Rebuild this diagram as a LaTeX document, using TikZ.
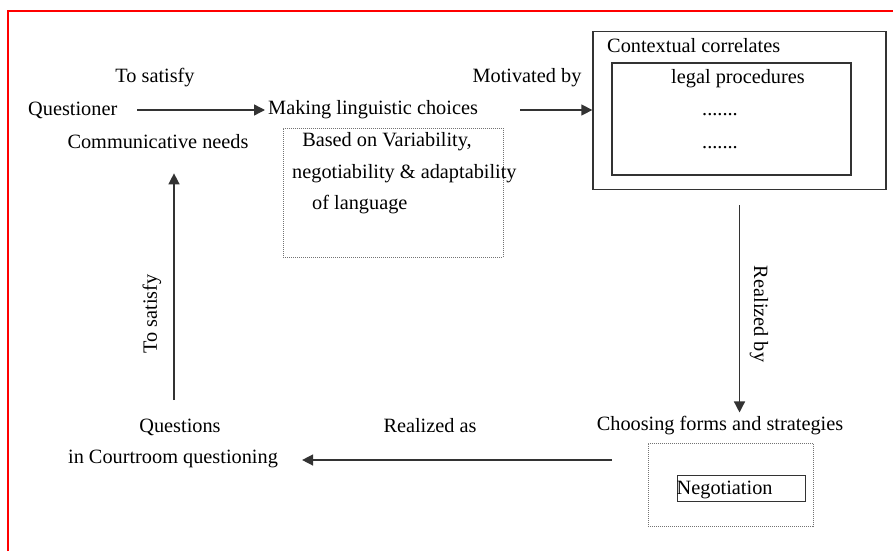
\documentclass[tikz,border=0pt]{standalone}
\usepackage{fontspec}
\setmainfont{Liberation Serif}
\usetikzlibrary{arrows.meta}

\begin{document}
\begin{tikzpicture}[x=1pt, y=-1pt, font=\fontsize{20.3}{24}\selectfont,
  lbl/.style={inner sep=0pt, yshift=-2pt},
  arr/.style={draw=black!80, line width=1.4pt, -{Triangle[length=11pt,width=11pt]}},
  box/.style={draw=black!80, line width=1.3pt},
  dotbox/.style={draw=black!55, densely dotted, line width=1pt}]
\useasboundingbox (0,0) rectangle (893,551);
\draw[red, line width=1.5pt] (8,551) -- (8,11) -- (893,11);
% top row
\node[lbl, anchor=west] (quest) at (28,108) {Questioner};
\node[lbl] (sat1) at (155,76) {To satisfy};
\node[lbl] (comm) at (158,140) {Communicative needs};
\node[lbl, anchor=west] (making) at (268,108) {Making linguistic choices};
\node[dotbox, minimum width=220, minimum height=129] (basis) at (393,192.5) {};
\node[lbl] (based1) at (387,140) {Based on Variability,};
\node[lbl, anchor=west] (based2) at (292,172) {negotiability \& adaptability};
\node[lbl, anchor=west] (based3) at (312,203) {of language};
\node[lbl] (motiv) at (527,76) {Motivated by};
% context box
\node[box, minimum width=293, minimum height=158] (outer) at (739.5,110.5) {};
\node[lbl, anchor=west] (ctx) at (607,44) {Contextual correlates};
\node[box, minimum width=239, minimum height=112] (inner) at (731.5,119) {};
\node[lbl] (legal) at (738,77) {legal procedures};
\foreach \y [count=\i] in {113,146}
  \node[lbl] (dots\i) at (720,\y) {.......};
% bottom row
\node[lbl] (choose) at (720,424) {Choosing forms and strategies};
\node[dotbox, minimum width=165, minimum height=83] (strat) at (730.5,484.5) {};
\node[box, line width=1pt, minimum width=128, minimum height=26] (negbox) at (741,488) {};
\node[lbl, anchor=west] (neg) at (negbox.west) {Negotiation};
\node[lbl] (realas) at (430,424) {Realized as};
\node[lbl] (qs) at (180,425) {Questions};
\node[lbl] (court) at (173,457) {in Courtroom questioning};
\node[lbl, rotate=-90] (realby) at (759,312) {Realized by};
\node[lbl, rotate=90] (sat2) at (152,312) {To satisfy};
% connectors
\coordinate (rstart) at (612,460);
\coordinate (lstart) at (174,400);
\draw[arr, shorten <=20pt, shorten >=3pt] (quest.east) -- (quest.east -| making.west);
\draw[arr, shorten <=42pt] (making.east) -- (making.east -| outer.west);
\draw[arr, shorten <=15pt, shorten >=4pt] (outer.south) -- (outer.south |- choose.north);
\draw[arr, shorten >=24pt] (rstart) -- (rstart -| court.east);
\draw[arr, shorten >=24pt] (lstart) -- (lstart |- comm.south);
\end{tikzpicture}
\end{document}
